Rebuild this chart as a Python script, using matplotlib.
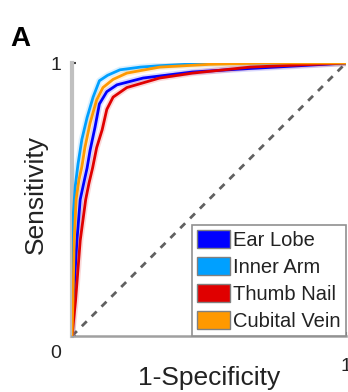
import matplotlib.pyplot as plt
from matplotlib.patches import Patch
import matplotlib.transforms as mtransforms

plt.rcParams['font.family'] = ['Liberation Sans', 'DejaVu Sans']

# ROC curves per measurement site (false positive rate, true positive rate)
ear_lobe_fpr = [0, 0.005, 0.018, 0.03, 0.045, 0.055, 0.066, 0.084, 0.10, 0.127, 0.164, 0.26, 0.44, 0.65, 0.83, 1.0]
ear_lobe_tpr = [0, 0.13, 0.35, 0.50, 0.57, 0.615, 0.68, 0.765, 0.85, 0.895, 0.92, 0.945, 0.967, 0.98, 0.99, 1.0]

inner_arm_fpr = [0, 0.002, 0.005, 0.012, 0.022, 0.036, 0.055, 0.077, 0.10, 0.13, 0.175, 0.25, 0.32, 0.45, 0.6, 1.0]
inner_arm_tpr = [0, 0.2, 0.45, 0.55, 0.63, 0.72, 0.80, 0.875, 0.935, 0.955, 0.975, 0.985, 0.99, 0.997, 1.0, 1.0]

thumb_nail_fpr = [0, 0.005, 0.013, 0.03, 0.05, 0.062, 0.075, 0.09, 0.11, 0.127, 0.15, 0.2, 0.32, 0.44, 0.65, 1.0]
thumb_nail_tpr = [0, 0.05, 0.13, 0.35, 0.50, 0.56, 0.615, 0.69, 0.755, 0.83, 0.875, 0.91, 0.945, 0.963, 0.985, 1.0]

cubital_vein_fpr = [0, 0.004, 0.008, 0.015, 0.025, 0.036, 0.047, 0.066, 0.09, 0.113, 0.15, 0.2, 0.32, 0.5, 0.7, 1.0]
cubital_vein_tpr = [0, 0.15, 0.35, 0.50, 0.57, 0.62, 0.69, 0.78, 0.865, 0.91, 0.94, 0.963, 0.985, 0.995, 1.0, 1.0]

labels = ['Ear Lobe', 'Inner Arm', 'Thumb Nail', 'Cubital Vein']
colors = ['#0000ff', '#00a0ff', '#e00000', '#ff9900']

curves = [(ear_lobe_fpr, ear_lobe_tpr), (inner_arm_fpr, inner_arm_tpr),
          (thumb_nail_fpr, thumb_nail_tpr), (cubital_vein_fpr, cubital_vein_tpr)]

fig = plt.figure(figsize=(3.48, 3.92), dpi=100)
ax = fig.add_axes([72 / 348, 56 / 392, 274 / 348, 273 / 392])

# chance line
ax.plot([0, 1], [0, 1], color='#606060', lw=2, dashes=(2.5, 2.5), zorder=1)

for (fpr, tpr), c in zip(curves, colors):
    ax.plot(fpr, tpr, color=c, lw=4.5, alpha=0.15, solid_joinstyle='round', zorder=2)
    ax.plot(fpr, tpr, color=c, lw=2, solid_joinstyle='round', zorder=3)

ax.set_xlim(0, 1)
ax.set_ylim(0, 1)

for side in ['top', 'right']:
    ax.spines[side].set_visible(False)
ax.spines['left'].set_color('#c0c0c0')
ax.spines['left'].set_linewidth(3)
ax.spines['bottom'].set_color('#a0a0a0')
ax.spines['bottom'].set_linewidth(1.8)

ax.set_yticks([0, 1])
ax.set_yticklabels(['0', '1'])
ax.set_xticks([1])
ax.set_xticklabels(['1'])
ax.tick_params(axis='both', direction='in', length=3, width=1.5, color='#404040',
               labelsize=14, labelcolor='#222222')
ax.tick_params(axis='y', pad=8)
ax.tick_params(axis='x', pad=16)

# push the "0" down to sit under the corner
offset = mtransforms.ScaledTranslation(0, -16 / 100, fig.dpi_scale_trans)
ylab0 = ax.get_yticklabels()[0]
ylab0.set_transform(ylab0.get_transform() + offset)

ax.set_xlabel('1-Specificity', fontsize=19, color='#222222')
ax.set_ylabel('Sensitivity', fontsize=19, color='#222222')
ax.xaxis.set_label_coords(0.5, -0.11)
ax.yaxis.set_label_coords(-0.088, 0.52)

handles = [Patch(facecolor=c, edgecolor='#808080', linewidth=1) for c in colors]
leg = ax.legend(handles, labels, loc='lower right', fontsize=14.5, frameon=True,
                fancybox=False, borderaxespad=0, borderpad=0.25, handlelength=1.65,
                handleheight=1.0, handletextpad=0.15, labelspacing=0.35)
leg.get_frame().set_edgecolor('#909090')
leg.get_frame().set_linewidth(1.2)
leg.get_frame().set_alpha(1)
for t in leg.get_texts():
    t.set_color('#222222')

fig.text(10 / 348, 1 - 46 / 392, 'A', fontsize=20, fontweight='bold')

fig.savefig('out.png', dpi=100)
